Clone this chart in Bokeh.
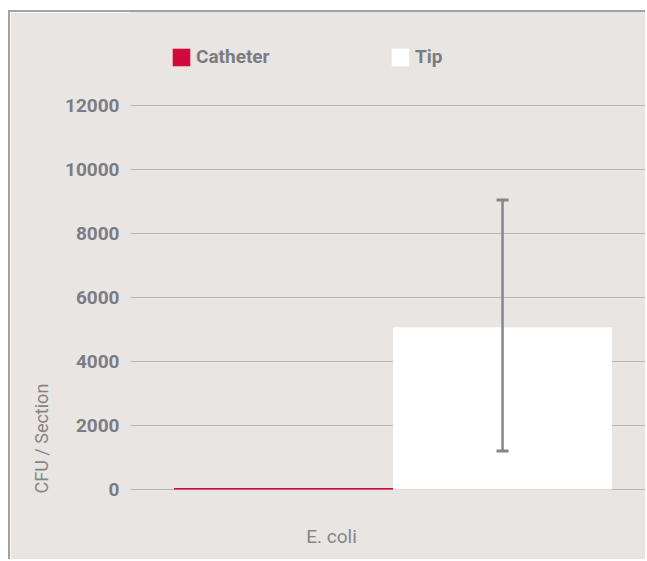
from bokeh.plotting import figure
from bokeh.models import (ColumnDataSource, Range1d, FixedTicker, Whisker, TeeHead,
                          Legend, LegendItem, Title)
from bokeh.embed import file_html
from bokeh.resources import INLINE

# ---- data ----
categories = ["E. coli"]
series = ["Catheter", "Tip"]
catheter_values = [50]
tip_values = [5070]
tip_err_low = [1200]
tip_err_high = [9050]
y_ticks = [0, 2000, 4000, 6000, 8000, 10000, 12000]
y_title = "CFU / Section"
colors = {"Catheter": "#d20a3c", "Tip": "#ffffff"}

BG = "#e8e5e2"
TXT = "#7b7c82"
TXT2 = "#85868b"
FONT = "Roboto"

group_x = list(range(len(categories)))
cath_src = ColumnDataSource(dict(x=[g - 0.5 for g in group_x], top=catheter_values))
tip_src = ColumnDataSource(dict(x=[g + 0.5 for g in group_x], top=tip_values,
                                lower=tip_err_low, upper=tip_err_high))

p = figure(width=637, height=549, output_backend="svg", toolbar_location=None,
           x_range=Range1d(-1.199, 1.162), y_range=Range1d(-125, 14906),
           min_border_left=120, min_border_right=0, min_border_top=0, min_border_bottom=68)
p.styles = {"border-left": "2px solid #a2a2a2", "border-top": "2px solid #a2a2a2",
            "margin-left": "8px", "margin-top": "10px"}

p.background_fill_color = BG
p.border_fill_color = BG
p.outline_line_color = BG
p.outline_line_width = 2

r1 = p.vbar(x="x", top="top", bottom=0, width=1, source=cath_src,
            fill_color=colors["Catheter"], line_color=None)
r2 = p.vbar(x="x", top="top", bottom=0, width=1, source=tip_src,
            fill_color=colors["Tip"], line_color=None)

w = Whisker(base="x", lower="lower", upper="upper", source=tip_src,
            line_color="#85868c", line_width=2.5, level="overlay",
            upper_head=TeeHead(size=12, line_color="#85868c", line_width=3),
            lower_head=TeeHead(size=12, line_color="#85868c", line_width=3))
p.add_layout(w)

# grid
p.xgrid.grid_line_color = None
p.ygrid.ticker = FixedTicker(ticks=y_ticks)
p.ygrid.grid_line_color = "#b8b6b4"
p.ygrid.grid_line_width = 1.2
p.ygrid.level = "underlay"

# y axis
ya = p.yaxis[0]
ya.ticker = FixedTicker(ticks=y_ticks)
ya.axis_line_color = None
ya.major_tick_line_color = None
ya.minor_tick_line_color = None
ya.major_label_standoff = 5
ya.major_label_text_font = FONT
ya.major_label_text_font_style = "bold"
ya.major_label_text_font_size = "19px"
ya.major_label_text_color = TXT

# y title in the left panel, aligned to the bottom of the frame
p.add_layout(Title(text=y_title, align="left", offset=0, standoff=20,
                   text_font=FONT, text_font_size="18px", text_font_style="normal",
                   text_color=TXT2), "left")

# x axis: category label
xa = p.xaxis[0]
label_pos = -0.281
xa.ticker = FixedTicker(ticks=[label_pos])
xa.major_label_overrides = {label_pos: categories[0]}
xa.axis_line_color = None
xa.major_tick_line_color = None
xa.minor_tick_line_color = None
xa.major_label_standoff = 25
xa.major_label_text_font = FONT
xa.major_label_text_font_size = "19px"
xa.major_label_text_color = TXT2

legend = Legend(items=[LegendItem(label=series[0], renderers=[r1]),
                       LegendItem(label=series[1], renderers=[r2])],
                orientation="horizontal", location=(40, 425),
                glyph_width=22, glyph_height=22, label_standoff=4,
                label_width=193, spacing=0, padding=0, margin=0,
                background_fill_alpha=0, border_line_color=None,
                label_text_font=FONT, label_text_font_style="bold",
                label_text_font_size="19px", label_text_color=TXT)
p.add_layout(legend)

open("out.html", "w").write(file_html(p, INLINE))
